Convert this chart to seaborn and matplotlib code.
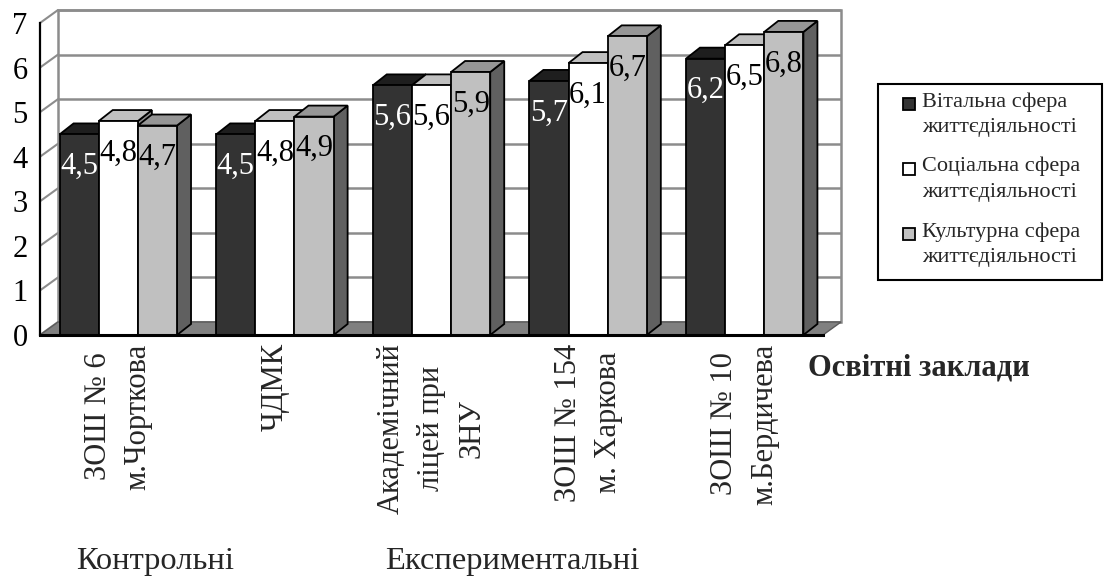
import matplotlib
matplotlib.use("Agg")
import matplotlib.pyplot as plt
from matplotlib.patches import Polygon, Rectangle
import seaborn as sns
import pandas as pd

# --- data -------------------------------------------------------------
schools = [
    "ЗОШ № 6\nм.Чорткова",
    "ЧДМК",
    "Академічний\nліцей при\nЗНУ",
    "ЗОШ № 154\nм. Харкова",
    "ЗОШ № 10\nм.Бердичева",
]
spheres = [
    "Вітальна сфера\nжиттєдіяльності",
    "Соціальна сфера\nжиттєдіяльності",
    "Культурна сфера\nжиттєдіяльності",
]
vital = [4.5, 4.5, 5.6, 5.7, 6.2]
social = [4.8, 4.8, 5.6, 6.1, 6.5]
cultural = [4.7, 4.9, 5.9, 6.7, 6.8]
y_ticks = [0, 1, 2, 3, 4, 5, 6, 7]
group_labels = ["Контрольні", "Експериментальні"]
axis_title = "Освітні заклади"

# --- styling ------------------------------------------------------------
front_colors = ["#333333", "#ffffff", "#c0c0c0"]
top_colors = ["#1e1e1e", "#c0c0c0", "#969696"]
side_colors = ["#1a1a1a", "#8a8a8a", "#606060"]
label_colors = ["white", "black", "black"]
grid_color = "#8c8c8c"

sns.set_style("white")
plt.rcParams["font.family"] = ["Liberation Serif", "DejaVu Serif"]

W, H = 1107, 581
fig = plt.figure(figsize=(W / 100, H / 100), dpi=100)
ax_left, ax_right, ax_bottom, ax_top = 40, 823, 335, 23
ax = fig.add_axes([ax_left / W, 1 - ax_bottom / H,
                   (ax_right - ax_left) / W, (ax_bottom - ax_top) / H])

n_cat = len(schools)
px_cat = (ax_right - ax_left) / n_cat
px_unit = (ax_bottom - ax_top) / (len(y_ticks) - 1)

# depth offsets of the walls and the bars (pixels -> data units)
WX, WY = 18 / px_cat, 13 / px_unit
BX, BY = 14 / px_cat, 11 / px_unit

df = pd.DataFrame({
    "school": schools * 3,
    "sphere": [s for s in spheres for _ in schools],
    "value": vital + social + cultural,
})

sns.barplot(data=df, x="school", y="value", hue="sphere", order=schools,
            hue_order=spheres, palette=front_colors, saturation=1,
            width=0.75, edgecolor="black", linewidth=1.3, legend=False,
            errorbar=None, ax=ax)

ax.set_xlim(-0.5, n_cat - 0.5)
ax.set_ylim(0, 7)
x0, x1 = -0.5, n_cat - 0.5
ymax = 7

# back wall, left wall edges and floor
ax.add_patch(Polygon([(x0 + WX, WY), (x1 + WX, WY), (x1 + WX, ymax + WY),
                      (x0 + WX, ymax + WY)], closed=True, facecolor="white",
                     edgecolor=grid_color, lw=1.8, zorder=1, clip_on=False))
for k in y_ticks:
    ax.plot([x0 + WX, x1 + WX], [k + WY, k + WY], color=grid_color, lw=1.8,
            zorder=2, clip_on=False, solid_capstyle="butt")
    ax.plot([x0, x0 + WX], [k, k + WY], color=grid_color, lw=1.5,
            zorder=2, clip_on=False)
ax.add_patch(Polygon([(x0, 0), (x1, 0), (x1 + WX, WY), (x0 + WX, WY)],
                     closed=True, facecolor="#808080", edgecolor="#5a5a5a",
                     lw=1.0, zorder=3, clip_on=False))

# 3-D faces for every bar, drawn left to right so neighbours overlap properly
bars = []
for h, cont in enumerate(ax.containers):
    for i, bar in enumerate(cont):
        bars.append((bar.get_x(), h, bar))
bars.sort(key=lambda t: t[0])
for order, (bx, h, bar) in enumerate(bars):
    w = bar.get_width()
    v = bar.get_height()
    z = 10 + order * 2
    top = Polygon([(bx, v), (bx + w, v), (bx + w + BX, v + BY), (bx + BX, v + BY)],
                  closed=True, facecolor=top_colors[h], edgecolor="black",
                  lw=1.3, zorder=z, clip_on=False)
    side = Polygon([(bx + w, 0), (bx + w + BX, BY), (bx + w + BX, v + BY), (bx + w, v)],
                   closed=True, facecolor=side_colors[h], edgecolor="black",
                   lw=1.3, zorder=z, clip_on=False)
    ax.add_patch(side)
    ax.add_patch(top)
    bar.set_zorder(z + 1)
    bar.set_clip_on(False)
    ax.annotate(f"{v:.1f}".replace(".", ","), xy=(bx + w / 2, v),
                xytext=(0, -32 * 0.72), textcoords="offset points",
                ha="center", va="center", fontsize=22, color=label_colors[h],
                zorder=200)

# axes, ticks and labels
sns.despine(ax=ax, top=True, right=True)
for s in ("left", "bottom"):
    ax.spines[s].set_color("black")
    ax.spines[s].set_zorder(150)
ax.spines["bottom"].set_linewidth(2.2)
ax.spines["left"].set_linewidth(1.6)

ax.set_yticks(y_ticks)
ax.set_yticklabels([str(t) for t in y_ticks], fontsize=22)
ax.tick_params(axis="y", length=5, width=1.4, direction="out", pad=4,
               colors="black")
ax.set_xticks(range(n_cat))
ax.set_xticklabels(schools, rotation=90, va="top", ha="center",
                   multialignment="center", linespacing=1.5, fontsize=22)
ax.tick_params(axis="x", which="major", length=0, pad=6)
ax.set_xticks([i - 0.5 for i in range(n_cat + 1)], minor=True)
ax.tick_params(axis="x", which="minor", length=6, width=1.4,
               direction="out", colors="black")
ax.set_xlabel("")
ax.set_ylabel("")
ax.grid(False)

fig.text(808 / W, 1 - 368 / H, axis_title, ha="left", va="center",
         fontsize=22, fontweight="bold")
fig.text(155 / W, 1 - 562 / H, group_labels[0], ha="center", va="center",
         fontsize=23.4)
fig.text(512 / W, 1 - 562 / H, group_labels[1], ha="center", va="center",
         fontsize=23.4)

# legend box
leg_l, leg_r, leg_t, leg_b = 878, 1102, 84, 280
fig.add_artist(Rectangle((leg_l / W, 1 - leg_b / H), (leg_r - leg_l) / W,
                         (leg_b - leg_t) / H, transform=fig.transFigure,
                         facecolor="white", edgecolor="black", lw=1.5))
first_lines = [104, 169, 234]
for h, (name, yc) in enumerate(zip(spheres, first_lines)):
    fig.add_artist(Rectangle((903 / W, 1 - (yc + 6) / H), 12 / W, 12 / H,
                             transform=fig.transFigure,
                             facecolor=front_colors[h], edgecolor="black",
                             lw=1.3))
    fig.text(922 / W, 1 - (yc - 12) / H, name, ha="left", va="top",
             fontsize=16, linespacing=1.45)

fig.savefig("out.png", dpi=100)
